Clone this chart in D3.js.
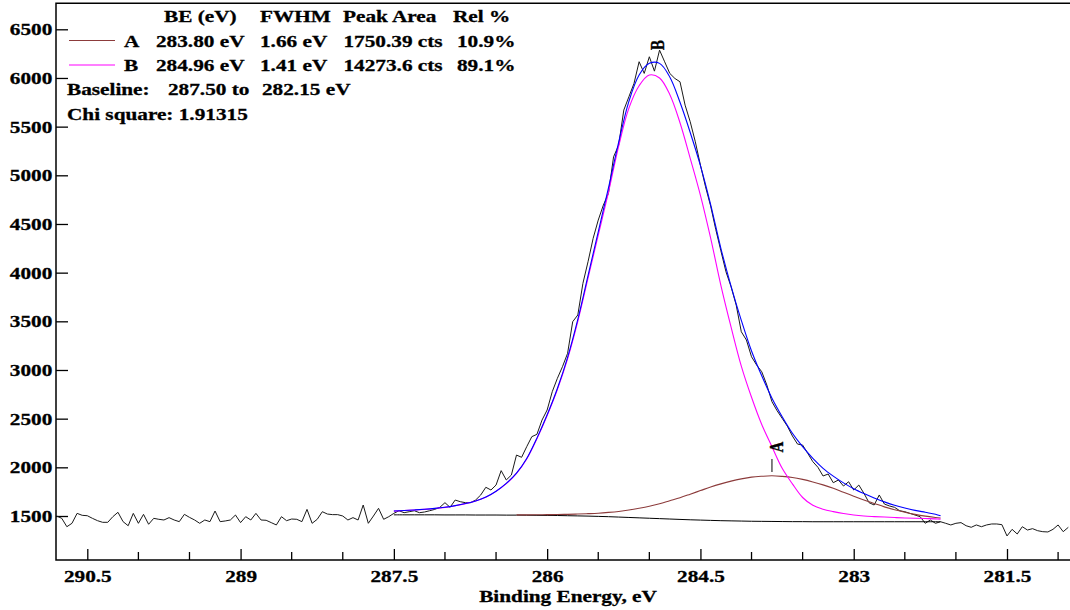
<!DOCTYPE html>
<html><head><meta charset="utf-8">
<script src="https://cdn.jsdelivr.net/npm/d3@7"></script>
<style>
body{margin:0;background:#fff}
svg{display:block}
text{font-family:"Liberation Serif","Times New Roman",serif;font-weight:bold;fill:#000;stroke:#000;stroke-width:0.3px}
</style>
</head><body>
<svg id="chart" width="1070" height="610"></svg>
<script>
// ---------------- DATA ----------------
// raw spectrum: binding energy grid start/step (eV), counts
const rawStart = 290.8, rawStep = 0.05;
const rawCounts = [
  1500,1476,1390,1425,1527,1507,1503,1476,1452,1435,1435,1493,1538,1442,1400,1527,
  1425,1517,1415,1476,1466,1459,1483,1459,1442,1517,1486,1459,1425,1459,1442,1551,1442,1449,1459,1510,
  1432,1493,1459,1527,1459,1456,1432,1408,1493,1452,1469,1466,1442,1568,1425,1466,1544,1520,1514,1514,
  1500,1459,1483,1459,1613,1425,1500,1579,1466,1493,1527,1554,1534,1544,1554,1534,1541,1554,1568,1589,
  1637,1589,1664,1647,1637,1637,1664,1716,1795,1767,1818,1966,1870,1921,2126,2103,2212,2315,2339,2486,
  2589,2777,2914,3034,3171,3496,3565,3890,4112,4352,4540,4694,4814,5190,5310,5670,5807,5944,6167,6047,
  6218,6070,6286,6166,6047,5995,5961,5721,5550,5344,5105,4882,4684,4444,4225,4009,3855,3667,3393,3308,
  3136,3051,2982,2845,2674,2582,2503,2424,2322,2239,2229,2144,2058,2000,1911,1931,1842,1870,1808,1852,
  1767,1818,1733,1637,1613,1716,1623,1603,1589,1554,1544,1527,1510,1493,1425,1459,1425,1441,1425,1408,
  1425,1432,1400,1384,1408,1390,1408,1418,1418,1411,1295,1363,1315,1390,1356,1370,1349,1339,1336,1363,
  1408,1339,1384
];
// fit region grid: 287.5 .. 282.2 step 0.1, then 282.15
const fitStart = 287.5, fitStep = 0.1, fitLast = 282.15;
const baselineCounts = [
  1512,1512,1512,1512,1512,1511,1511,1511,1510,1510,
  1510,1509,1509,1508,1507,1506,1505,1503,1501,1499,
  1496,1493,1489,1485,1481,1477,1473,1469,1465,1461,
  1458,1455,1452,1450,1448,1446,1445,1444,1443,1442,
  1442,1441,1441,1441,1441,1441,1441,1441,1441,1441,
  1441,1441,1441,1441,1441
];
const peakACounts = [
  null,null,null,null,null,null,null,null,null,null,null,null,
  1512,1512,1513,1514,1515,1517,1520,1524,1529,1537,
  1547,1561,1579,1600,1626,1657,1688,1724,1761,1798,
  1830,1858,1881,1899,1908,1913,1907,1896,1876,1850,
  1820,1785,1744,1704,1664,1629,1594,1564,1539,1517,
  1499,1485,1479
];
const peakBCounts = [
  1550,1556,1561,1568,1577,1589,1606,1627,1654,1693,
  1753,1832,1937,2086,2294,2532,2799,3115,3500,3943,
  4385,4824,5300,5690,5920,6030,6000,5830,5540,5175,
  4795,4355,3870,3440,3040,2720,2440,2212,1990,1830,
  1690,1610,1570,1545,1525,1510,1500,1494,1489,1484,
  1480,1477,1474,1470,1468
];
const envelopeCounts = [
  1551,1557,1562,1569,1578,1590,1607,1628,1655,1695,
  1755,1835,1940,2090,2300,2540,2810,3130,3520,3970,
  4420,4870,5340,5760,6030,6150,6150,6010,5750,5440,
  5100,4700,4250,3860,3510,3195,2940,2710,2520,2350,
  2212,2092,1990,1910,1840,1780,1730,1685,1645,1610,
  1582,1558,1538,1518,1502
];
const xTicks = [290.5, 289, 287.5, 286, 284.5, 283, 281.5];
const xMinorTicks = [290, 289.5, 288.5, 288, 287, 286.5, 285.5, 285, 284, 283.5, 282.5, 282, 281];
const yTicks = [1500, 2000, 2500, 3000, 3500, 4000, 4500, 5000, 5500, 6000, 6500];
const legendHeader = ["BE (eV)", "FWHM", "Peak Area", "Rel %"];
const peakNames = ["A", "B"];
const peakBE = ["283.80 eV", "284.96 eV"];
const peakFWHM = ["1.66 eV", "1.41 eV"];
const peakArea = ["1750.39 cts", "14273.6 cts"];
const peakRel = ["10.9%", "89.1%"];
const peakPos = [283.80, 284.96];
const peakLabelCount = [2209, 6339];
const baselineText = ["Baseline:", "287.50 to", "282.15 eV"];
const chiText = "Chi square: 1.91315";
const xTitle = "Binding Energy, eV";

// ---------------- CHART ----------------
const svg = d3.select("#chart");
const SX = 1.25, FS = 17;
const x = d3.scaleLinear().domain([290.5, 281.5]).range([87.3, 1007]);
const y = d3.scaleLinear().domain([1500, 6500]).range([516, 29.3]);
const plotLeft = 56, plotTop = 3.3, plotBottom = 560, plotRight = 1080;

const rawData = rawCounts.map((c, i) => [rawStart - rawStep * i, c]);
const fitBE = d3.range(baselineCounts.length - 1).map(i => fitStart - fitStep * i).concat([fitLast]);
const mk = arr => arr.map((c, i) => [fitBE[i], c]);

const colors = {raw: "#1a1a1a", base: "#000", A: "#8c3b3b", B: "#ff00ff", env: "#0000ff"};

// frame
svg.append("path")
  .attr("d", `M${plotRight},${plotTop}H${plotLeft}V${plotBottom}H${plotRight}`)
  .attr("fill", "none").attr("stroke", "#000").attr("stroke-width", 1.5);

// x axis
const xAxis = svg.append("g").attr("transform", `translate(0,${plotBottom})`)
  .call(d3.axisBottom(x).tickValues(xTicks).tickSize(-11).tickSizeOuter(0).tickPadding(0).tickFormat(d3.format("")));
xAxis.select(".domain").remove();
xAxis.selectAll("line").attr("stroke", "#000").attr("stroke-width", 1.3);
xAxis.selectAll("text").attr("y", 21.6).attr("dy", null)
  .attr("font-size", FS).attr("font-family", null).attr("fill", null).attr("transform", `scale(${SX},1)`);
svg.append("g").selectAll("line").data(xMinorTicks).join("line")
  .attr("x1", d => x(d)).attr("x2", d => x(d))
  .attr("y1", plotBottom).attr("y2", plotBottom - 8)
  .attr("stroke", "#000").attr("stroke-width", 1.3);

// y axis
const yAxis = svg.append("g").attr("transform", `translate(${plotLeft},0)`)
  .call(d3.axisLeft(y).tickValues(yTicks).tickSize(-12).tickSizeOuter(0).tickPadding(3).tickFormat(d3.format("")));
yAxis.select(".domain").remove();
yAxis.selectAll("line").attr("stroke", "#000").attr("stroke-width", 1.3);
yAxis.selectAll("text").attr("font-size", FS).attr("font-family", null).attr("fill", null)
  .attr("dy", "0.33em").attr("transform", `scale(${SX},1)`);

// lines
const lineLin = d3.line().x(d => x(d[0])).y(d => y(d[1])).defined(d => d[1] != null);
const lineSm = d3.line().x(d => x(d[0])).y(d => y(d[1])).defined(d => d[1] != null).curve(d3.curveCatmullRom);

svg.append("path").datum(rawData).attr("d", lineLin)
  .attr("fill", "none").attr("stroke", colors.raw).attr("stroke-width", 1);
svg.append("path").datum(mk(baselineCounts)).attr("d", lineSm)
  .attr("fill", "none").attr("stroke", colors.base).attr("stroke-width", 1);
svg.append("path").datum(mk(peakACounts)).attr("d", lineSm)
  .attr("fill", "none").attr("stroke", colors.A).attr("stroke-width", 1.1);
svg.append("path").datum(mk(peakBCounts)).attr("d", lineSm)
  .attr("fill", "none").attr("stroke", colors.B).attr("stroke-width", 1.1);
svg.append("path").datum(mk(envelopeCounts)).attr("d", lineSm)
  .attr("fill", "none").attr("stroke", colors.env).attr("stroke-width", 1.1);

// text helper (original image is horizontally stretched)
function txt(px, py, s, anchor, size) {
  return svg.append("text")
    .attr("transform", `translate(${px},${py}) scale(${SX},1)`)
    .attr("text-anchor", anchor || "start")
    .attr("font-size", size || FS)
    .text(s);
}

// peak labels (rotated)
peakNames.forEach((n, i) => {
  const px = x(peakPos[i]);
  const py = y(peakLabelCount[i]);
  svg.append("text")
    .attr("transform", `translate(${px + 4},${py}) scale(${SX},1) rotate(-90)`)
    .attr("text-anchor", "middle").attr("dy", "0.35em")
    .attr("font-size", 15).text(n);
});
svg.append("line")
  .attr("x1", x(peakPos[0])).attr("x2", x(peakPos[0]))
  .attr("y1", y(peakLabelCount[0]) + 12).attr("y2", y(peakLabelCount[0]) + 25)
  .attr("stroke", "#000").attr("stroke-width", 1);

// legend
const headX = [164, 260, 343, 453];
legendHeader.forEach((h, i) => txt(headX[i], 22.3, h));
const rowY = [41, 65.5];
const rowColors = [colors.A, colors.B];
peakNames.forEach((n, i) => {
  svg.append("line").attr("x1", 69).attr("x2", 115).attr("y1", rowY[i] - 0.5).attr("y2", rowY[i] - 0.5)
    .attr("stroke", rowColors[i]).attr("stroke-width", 1.2);
  const by = rowY[i] + 5.7;
  txt(124, by, n);
  txt(156, by, peakBE[i]);
  txt(260, by, peakFWHM[i]);
  txt(343.5, by, peakArea[i]);
  txt(457, by, peakRel[i]);
});
txt(67, 95, baselineText[0]);
txt(168, 95, baselineText[1]);
txt(262, 95, baselineText[2]);
txt(67, 119.6, chiText);

// x title
txt(568, 602, xTitle, "middle");
</script>
</body></html>
